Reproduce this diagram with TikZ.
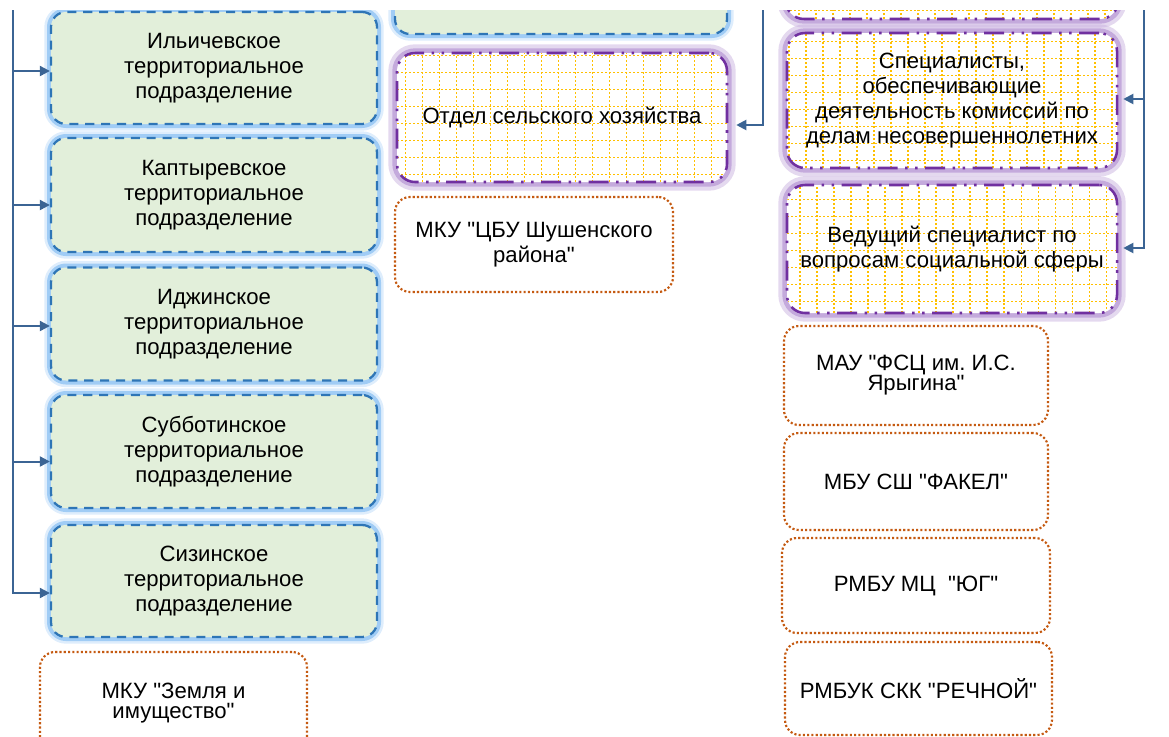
\documentclass[tikz,border=0pt]{standalone}
\usepackage{fontspec}
\setmainfont{Liberation Sans}[Ligatures=TeXOff]
\usetikzlibrary{arrows.meta}
\usetikzlibrary{calc}

\definecolor{greenfill}{RGB}{226,239,218}
\definecolor{bluedash}{RGB}{46,117,182}
\definecolor{blueglow}{RGB}{160,204,245}
\definecolor{linkblue}{RGB}{59,100,148}
\definecolor{purpledash}{RGB}{112,48,160}
\definecolor{purpleglow}{RGB}{196,170,220}
\definecolor{gridyellow}{RGB}{255,192,0}
\definecolor{orangedot}{RGB}{197,90,17}

\newcommand\boxfont{\frenchspacing\fontsize{16.6}{18.75}\selectfont}
\newcommand\tightfont{\frenchspacing\fontsize{16.6}{15}\selectfont}

\tikzset{
  terrbox/.style={rectangle, rounded corners=11.25pt, fill=greenfill, draw=bluedash, line width=1.7pt,
    dash pattern={on 6.8pt off 5.1pt},
    preaction={draw=blueglow, solid, line width=10pt, draw opacity=0.35},
    preaction={draw=blueglow, solid, line width=6pt},
    minimum width=244.5pt, align=center, font=\boxfont},
  deptbox/.style={rectangle, rounded corners=13.5pt, fill=white, draw=purpledash, line width=1.9pt,
    dash pattern={on 15pt off 5.6pt on 1.9pt off 5.6pt on 1.9pt off 5.6pt},
    preaction={draw=purpleglow, solid, line width=13pt, draw opacity=0.45},
    preaction={draw=purpleglow, solid, line width=7pt},
    path picture={\draw[gridyellow, line width=1.2pt, dash pattern={on 1.5pt off 1.5pt}, step=12.75pt]
      (path picture bounding box.south west) grid (path picture bounding box.north east);},
    minimum width=247.5pt, align=center, font=\boxfont},
  orgbox/.style={rectangle, rounded corners=11.25pt, fill=white, draw=orangedot, line width=1.6pt,
    dash pattern={on 1.6pt off 1.6pt}, align=center, font=\boxfont},
  conn/.style={draw=linkblue, line width=1.5pt, -{Triangle[length=7.5pt,width=7.5pt]}}
}

\begin{document}
\begin{tikzpicture}[x=0.75pt,y=0.75pt,yscale=-1,xscale=1]
\useasboundingbox (0,0) rectangle (1169,736);
\begin{scope}
\clip (0,10) rectangle (1169,736);

% left column: territorial units
\node (ilich) [terrbox, minimum height=84pt] at (214,68) {Ильичевское\\территориальное\\подразделение};
\node (kapt) [terrbox, minimum height=85.5pt] at (214,195) {Каптыревское\\территориальное\\подразделение};
\node (idzh) [terrbox, minimum height=84.75pt] at (214,324) {Иджинское\\территориальное\\подразделение};
\node (subb) [terrbox, minimum height=84.75pt] at (214,451.5) {Субботинское\\территориальное\\подразделение};
\node (sizin) [terrbox, minimum height=84pt] at (214,581) {Сизинское\\территориальное\\подразделение};
\node (zemlya) [orgbox, font=\tightfont, minimum width=200.25pt, minimum height=76.5pt] at (173.5,703) {МКУ "Земля и\\имущество"};

% middle column
\node (topgreen) [terrbox, minimum width=249pt, minimum height=90pt] at (561,-26) {};
\node (otdel) [deptbox, minimum height=96.75pt] at (562,117.5) {Отдел сельского хозяйства};
\node (cbu) [orgbox, minimum width=208.5pt, minimum height=71.25pt] at (534,244.5) {МКУ "ЦБУ Шушенского\\района"};

% right column
\node (topdept) [deptbox, minimum width=249pt, minimum height=90pt] at (952,-41) {};
\node (spec) [deptbox, minimum height=101.25pt] at (952,100.5) {Специалисты,\\обеспечивающие\\деятельность комиссий по\\делам несовершеннолетних};
\node (ved) [deptbox, minimum height=96pt] at (952,249) {Ведущий специалист по\\вопросам социальной сферы};
\node (mau) [orgbox, font=\tightfont, minimum width=198pt, minimum height=74.25pt] at (916,375.5) {МАУ "ФСЦ им. И.С.\\Ярыгина"};
\node (fakel) [orgbox, minimum width=198pt, minimum height=72.75pt] at (916,481.5) {МБУ СШ "ФАКЕЛ"};
\node (yug) [orgbox, minimum width=201pt, minimum height=71.25pt] at (916,585.5) {РМБУ МЦ\ \ "ЮГ"};
\node (rechn) [orgbox, minimum width=200.25pt, minimum height=69.75pt] at (918.5,688.5) {РМБУК СКК "РЕЧНОЙ"};

% trunks and arrows
\coordinate (ltop) at (13,0);
\coordinate (mtop) at (763,0);
\coordinate (rtop) at (1144,0);

\draw [conn] (ltop) |- ($(ilich.west)+(0,3)$);
\draw [conn] (ltop) |- ($(kapt.west)+(0,10)$);
\draw [conn] (ltop) |- ($(idzh.west)+(0,2)$);
\draw [conn] (ltop) |- ($(subb.west)+(0,10)$);
\draw [conn] (ltop) |- ($(sizin.west)+(0,12)$);

\draw [conn] (mtop) |- ($(otdel.east)+(8,7.5)$);

\draw [conn] (rtop) |- ($(spec.east)+(5,-1.5)$);
\draw [conn] (rtop) |- ($(ved.east)+(5,-1)$);
\end{scope}
\end{tikzpicture}
\end{document}
